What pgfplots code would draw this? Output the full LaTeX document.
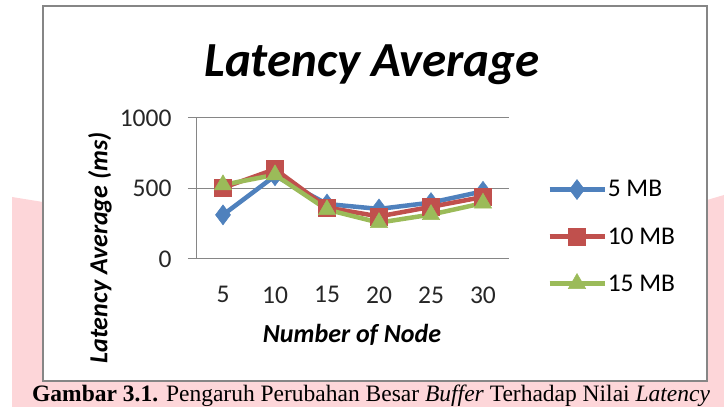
\documentclass[border=0pt]{standalone}
\usepackage{pgfplots}
\pgfplotsset{compat=1.18}
\usepackage{fontspec}
\setmainfont{Carlito}
\newfontfamily\capfont{Liberation Serif}
\definecolor{sblue}{HTML}{4F81BD}
\definecolor{sred}{HTML}{C0504D}
\definecolor{sgreen}{HTML}{9BBB59}
\definecolor{pinkbg}{RGB}{253,214,217}
\definecolor{gridc}{HTML}{868686}
\begin{document}
\begin{tikzpicture}[x=1pt,y=1pt]
\path[use as bounding box] (0,0) rectangle (724,407);
\fill[pinkbg] (12,0) -- (12,210) -- (43,205) -- (43,0) -- cycle;
\fill[pinkbg] (12,0) rectangle (724,26);
\fill[pinkbg] (707,0) -- (707,207) -- (724,212) -- (724,0) -- cycle;
\fill[white] (43,26) rectangle (707,401);
\draw[gridc, line width=2pt] (43,26) rectangle (707,401);
\node[anchor=base, inner sep=0pt, font=\fontsize{49}{55}\selectfont\bfseries\itshape] at (372,330) {Latency Average};
\node[anchor=base, inner sep=0pt, font=\fontsize{26}{30}\selectfont\bfseries\itshape] at (352,64) {Number of Node};
\node[rotate=90, inner sep=0pt, font=\fontsize{26}{30}\selectfont\bfseries\itshape] at (100,159) {Latency Average (ms)};
\node[anchor=base west, inner sep=0pt, font=\fontsize{23.5}{28}\selectfont\capfont] at (32,5) {\textbf{Gambar 3.1.} Pengaruh Perubahan Besar \textit{Buffer} Terhadap Nilai \textit{Latency}};
\begin{axis}[at={(197pt,148pt)}, anchor=south west, scale only axis,
  width=312pt, height=141pt,
  xmin=0.5, xmax=6.5, ymin=0, ymax=1000,
  xtick={1,...,6}, xticklabels={5,10,15,20,25,30},
  ytick={0,500,1000},
  axis x line*=bottom, axis y line*=left,
  axis line style={gridc, line width=1pt, -},
  ymajorgrids, grid style={gridc, line width=1pt},
  x tick style={draw=none}, y tick style={gridc, line width=1pt},
  tick align=outside, major tick length=9pt,
  tick label style={font=\fontsize{25.5}{30}\selectfont, text=black!85},
  yticklabel style={xshift=-13pt},
  xticklabel style={yshift=-15pt},
  /pgf/number format/assume math mode=true,
  /pgf/number format/1000 sep={},
  clip=false,
  legend style={at={(axis description cs:1.122,0.163)}, anchor=west,
    draw=none, fill=none, inner sep=0pt, row sep=28pt,
    font=\fontsize{25.5}{30}\selectfont,
    nodes={inner sep=0pt, anchor=west}},
  legend cell align=left,
  legend image code/.code={%
    \draw[#1, mark repeat=2, mark phase=2] plot coordinates {(0pt,0pt) (27.5pt,0pt) (55pt,0pt)};
    \path (56pt,0pt);},
  every axis plot/.append style={line width=4.5pt},
]
\addplot[sblue, mark=diamond*, mark size=10pt, mark options={line width=0.5pt}] coordinates {(1,313) (2,590) (3,390) (4,355) (5,400) (6,480)};
\addplot[sred, mark=square*, mark size=8.5pt, mark options={line width=0.5pt}] coordinates {(1,505) (2,637) (3,365) (4,302) (5,370) (6,440)};
\addplot[sgreen, mark=triangle*, mark size=10pt, mark options={line width=0.5pt}] coordinates {(1,526) (2,597) (3,350) (4,258) (5,315) (6,396)};
\legend{5 MB,10 MB,15 MB}
\end{axis}
\end{tikzpicture}
\end{document}
